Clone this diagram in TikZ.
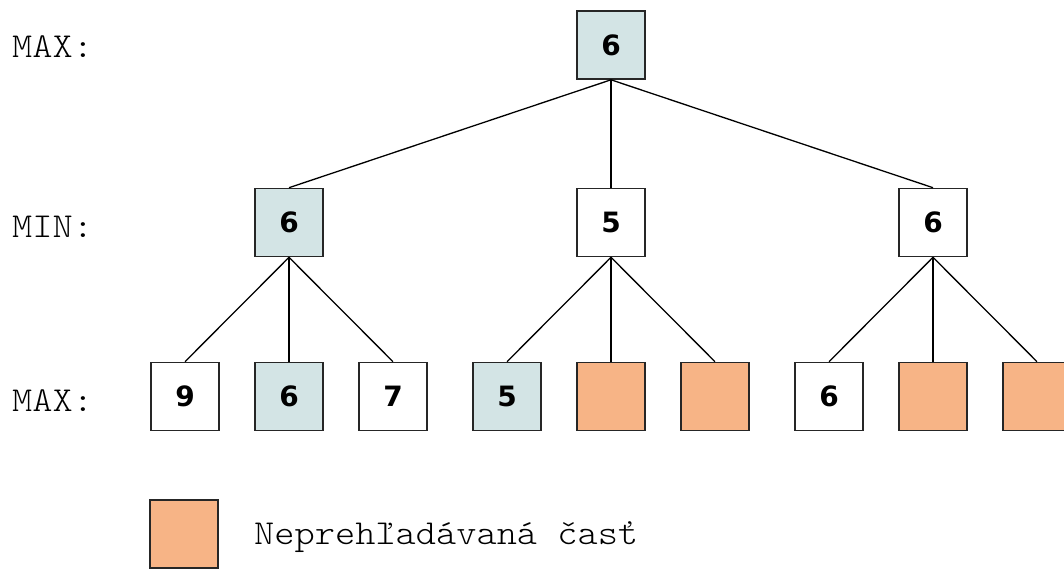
\documentclass[tikz,border=0pt]{standalone}
\usepackage{fontspec}
\newfontfamily\numfont{DejaVu Sans}
\newfontfamily\lblfont[FakeStretch=1.1]{Latin Modern Mono Light}
\definecolor{visited}{HTML}{D3E4E5}
\definecolor{pruned}{HTML}{F7B486}
\begin{document}
\begin{tikzpicture}[x=1pt,y=-1pt,
  box/.style={draw=black!85,line width=1.6pt,minimum size=68pt,inner sep=0pt,fill=white,
    font=\numfont\bfseries\fontsize{28}{30}\selectfont},
  vis/.style={box,fill=visited},
  prn/.style={box,fill=pruned},
  lbl/.style={font=\lblfont\fontsize{35}{40}\selectfont,anchor=west,inner sep=0pt},
  edge/.style={line width=1.3pt}]
\useasboundingbox (0,0) rectangle (1064,570);
\node[vis] (r) at (611,45) {6};
\node[vis] (a) at (289,222.5) {6};
\node[box] (b) at (611,222.5) {5};
\node[box] (c) at (933,222.5) {6};
\node[box] (a1) at (185,396.5) {9};
\node[vis] (a2) at (289,396.5) {6};
\node[box] (a3) at (393,396.5) {7};
\node[vis] (b1) at (507,396.5) {5};
\node[prn] (b2) at (611,396.5) {};
\node[prn] (b3) at (715,396.5) {};
\node[box] (c1) at (829,396.5) {6};
\node[prn] (c2) at (933,396.5) {};
\node[prn] (c3) at (1037,396.5) {};
\node[prn] (leg) at (184,534) {};
\node[lbl] (legt) at (254,537) {Neprehľadávaná časť};
\node[lbl] (l1) at (12,47) {MAX:};
\node[lbl] (l2) at (12,227) {MIN:};
\node[lbl] (l3) at (12,401) {MAX:};
\foreach \p/\c in {r/a,r/b,r/c,a/a1,a/a2,a/a3,b/b1,b/b2,b/b3,c/c1,c/c2,c/c3}
  \draw[edge] (\p.south) -- (\c.north);
\end{tikzpicture}
\end{document}
